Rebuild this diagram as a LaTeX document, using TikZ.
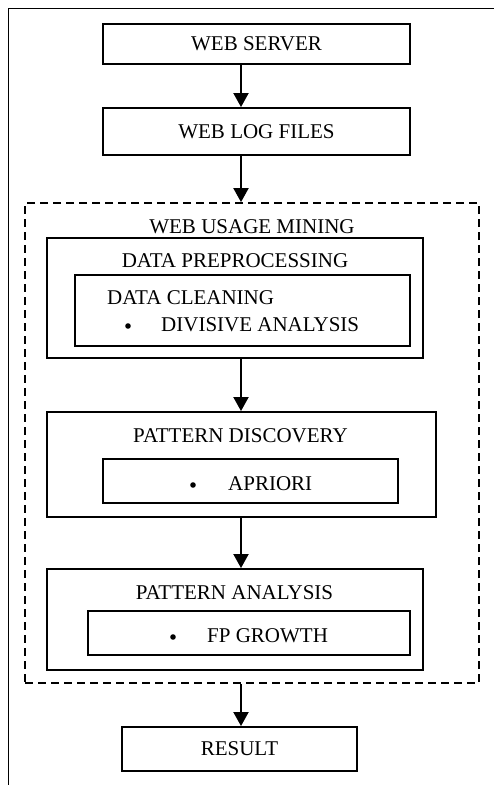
\documentclass[tikz,border=0pt]{standalone}
\usepackage{fontspec}
\setmainfont{Liberation Serif}
\usetikzlibrary{arrows.meta}

\tikzset{
  box/.style={draw, line width=1.9pt, rectangle, inner sep=0pt},
  txt/.style={inner sep=0pt, font=\fontsize{21}{24}\selectfont},
  dot/.style={circle, fill, inner sep=0pt, minimum size=5.6pt},
  arr/.style={line width=2pt, -{Triangle[width=15pt,length=14pt]}},
  groupbox/.style={draw, line width=1.8pt, dash pattern=on 8pt off 5pt, rectangle, inner sep=0pt},
}

\begin{document}
\begin{tikzpicture}[x=1pt,y=-1pt]
\useasboundingbox (0,0) rectangle (494,785);

% open frame along the left and top edges
\draw[line width=1.4pt] (8.5,785) -- (8.5,8.5) -- (494,8.5);

% column of the connectors
\coordinate (ax) at (241,0);

% source boxes
\node[box, minimum width=307pt, minimum height=40pt, txt] (server) at (256.5,44) {WEB SERVER};
\node[box, minimum width=307pt, minimum height=47pt, txt] (logs) at (256.5,131.5) {WEB LOG FILES};

% web usage mining group
\node[groupbox, minimum width=454pt, minimum height=480pt] (usage) at (252,443) {};
\node[txt] (usagetxt) at (252,227) {WEB USAGE MINING};

% data preprocessing
\node[box, minimum width=376pt, minimum height=120pt] (prep) at (235,298) {};
\node[txt] (preptxt) at (235,261) {DATA PREPROCESSING};
\node[box, minimum width=335pt, minimum height=71pt] (clean) at (242.5,310.5) {};
\node[txt, anchor=west] (cleantxt) at (107,298) {DATA CLEANING};
\node[dot] (cleanbul) at (128,326) {};
\node[txt, anchor=west] (diana) at (161,325) {DIVISIVE ANALYSIS};

% pattern discovery
\node[box, minimum width=389pt, minimum height=105pt] (disc) at (241.5,464.5) {};
\node[txt] (disctxt) at (240.5,436) {PATTERN DISCOVERY};
\node[box, minimum width=295pt, minimum height=44pt] (apr) at (250.5,481) {};
\node[dot] (aprbul) at (193,485) {};
\node[txt, anchor=west] (aprtxt) at (228,484) {APRIORI};

% pattern analysis
\node[box, minimum width=376pt, minimum height=101pt] (anal) at (235,619.5) {};
\node[txt] (analtxt) at (234.5,593) {PATTERN ANALYSIS};
\node[box, minimum width=322pt, minimum height=44pt] (fp) at (249,633) {};
\node[dot] (fpbul) at (173,637) {};
\node[txt, anchor=west] (fptxt) at (207,636) {FP GROWTH};

% result
\node[box, minimum width=235pt, minimum height=44pt, txt] (result) at (239.5,749) {RESULT};

% connectors
\draw[arr] (server.south -| ax) -- (logs.north -| ax);
\draw[arr] (logs.south -| ax) -- (usage.north -| ax);
\draw[arr] (prep.south -| ax) -- (disc.north -| ax);
\draw[arr] (disc.south -| ax) -- (anal.north -| ax);
\draw[arr] (usage.south -| ax) -- (result.north -| ax);
\end{tikzpicture}
\end{document}
